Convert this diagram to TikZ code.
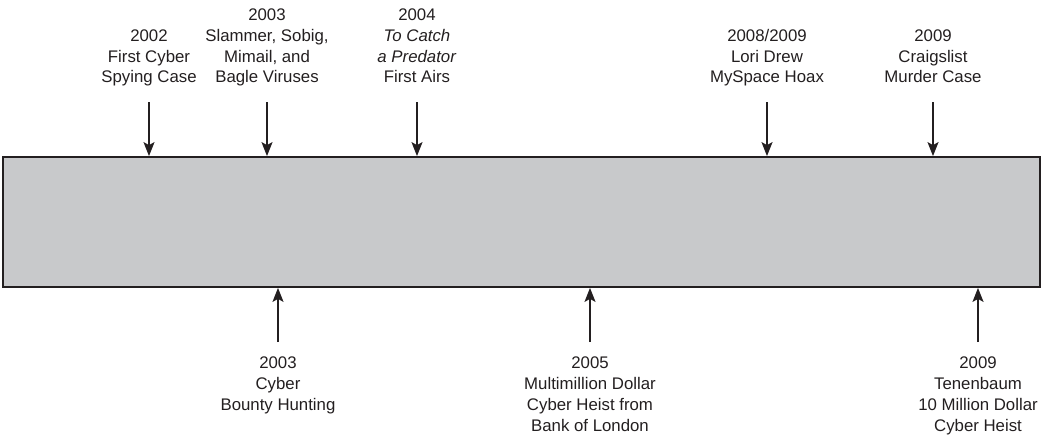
\documentclass[tikz,border=0pt]{standalone}
\usepackage{fontspec}
\setmainfont{Liberation Sans}
\usetikzlibrary{arrows.meta}

\definecolor{barre}{RGB}{200,201,203}
\definecolor{trait}{RGB}{35,31,32}

\tikzset{
  evtext/.style={align=center, inner sep=0pt, text=trait,
                 font=\fontsize{16.8}{20.8}\selectfont},
  evarrow/.style={line width=1.4pt, draw=trait,
                  -{Stealth[length=14pt,width=11pt,inset=3pt]}}
}

\begin{document}
\begin{tikzpicture}[x=1pt,y=-1pt]
\useasboundingbox (0,0) rectangle (1044,442);

% Barre
\node (bar) [draw=trait, line width=1.8pt, fill=barre,
             minimum width=1037pt, minimum height=130pt, inner sep=0pt]
      at (521.5,222) {};

% Evenements (haut)
\foreach \x/\txt [count=\i] in {
    149/{2002\\First Cyber\\Spying Case},
    267/{2003\\Slammer, Sobig,\\Mimail, and\\Bagle Viruses},
    417/{2004\\\textit{To Catch}\\\textit{a Predator}\\First Airs},
    767/{2008/2009\\Lori Drew\\MySpace Hoax},
    933/{2009\\Craigslist\\Murder Case}}
{
  \node (top\i) [evtext, anchor=south, text depth=4pt] at (\x,87) {\txt};
  \draw [evarrow] ([yshift=-15pt]top\i.south) -- (top\i.south |- bar.north);
}

% Evenements (bas)
\foreach \x/\txt [count=\i] in {
    278/{2003\\Cyber\\Bounty Hunting},
    590/{2005\\Multimillion Dollar\\Cyber Heist from\\Bank of London},
    978/{2009\\Tenenbaum\\10 Million Dollar\\Cyber Heist}}
{
  \node (bot\i) [evtext, anchor=north] at (\x,357) {\txt};
  \draw [evarrow] ([yshift=15pt]bot\i.north) -- (bot\i.north |- bar.south);
}

\end{tikzpicture}
\end{document}
